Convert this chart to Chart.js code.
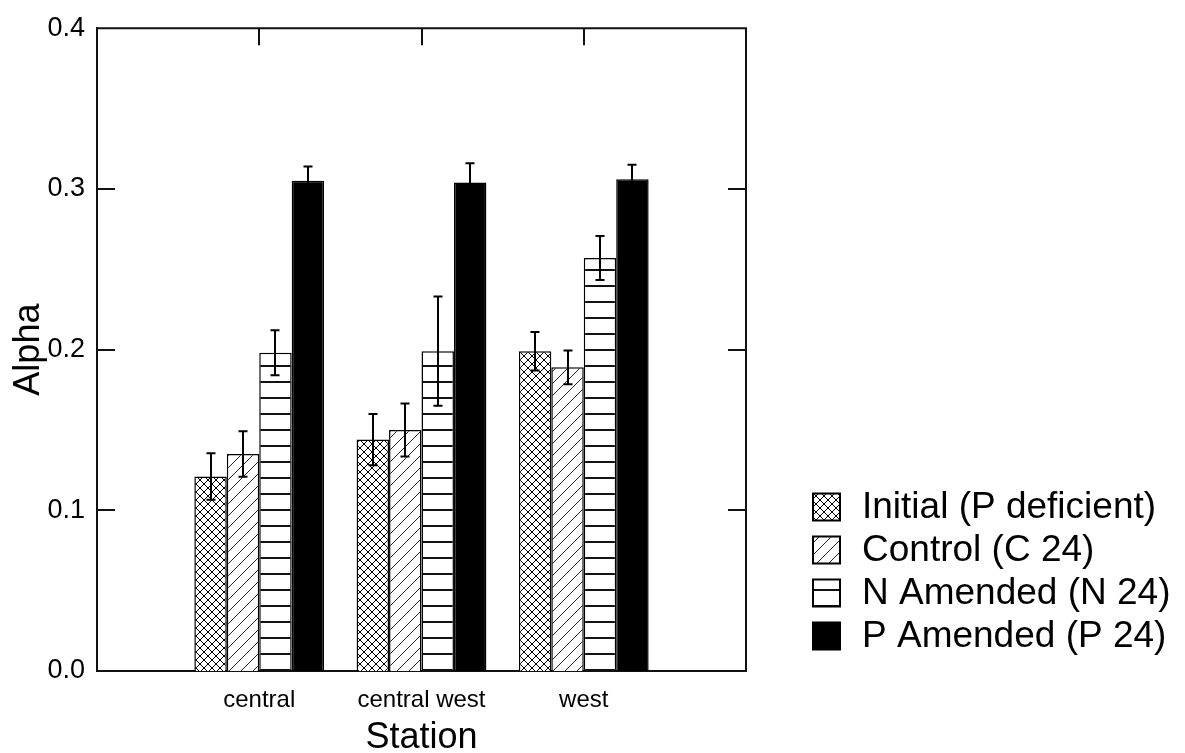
<!DOCTYPE html>
<html>
<head>
<meta charset="utf-8">
<script src="https://cdn.jsdelivr.net/npm/chart.js@4.4.1/dist/chart.umd.min.js"></script>
<style>
  html, body { margin: 0; padding: 0; background: #fff; }
  #wrap { width: 1185px; height: 753px; }
</style>
</head>
<body>
<div id="wrap"><canvas id="c" width="1185" height="753"></canvas></div>
<script>
// ---- data ----
const categories = ['central', 'central west', 'west'];
const seriesNames = ['Initial (P deficient)', 'Control (C 24)', 'N Amended (N 24)', 'P Amended (P 24)'];
const initialVals = [0.121, 0.144, 0.199];
const controlVals = [0.135, 0.150, 0.189];
const nAmendedVals = [0.198, 0.199, 0.257];
const pAmendedVals = [0.305, 0.304, 0.306];
const initialErr = [0.0145, 0.016, 0.012];
const controlErr = [0.0142, 0.0165, 0.0105];
const nAmendedErr = [0.014, 0.034, 0.0137];
const pAmendedErr = [0.009, 0.012, 0.009];
const yTickValues = [0.0, 0.1, 0.2, 0.3, 0.4];

// ---- fill patterns ----
function patternCanvas(w, h, draw) {
  const c = document.createElement('canvas');
  c.width = w; c.height = h;
  const g = c.getContext('2d');
  g.fillStyle = '#fff'; g.fillRect(0, 0, w, h);
  g.fillStyle = '#000';
  draw(g, w, h);
  return g.createPattern(c, 'repeat');
}
const crossPat = patternCanvas(8, 8, (g, w) => {
  for (let i = 0; i < w; i++) { g.fillRect(i, i, 1, 1); g.fillRect(w - 1 - i, i, 1, 1); }
});
const diagPat = patternCanvas(12, 12, (g, w) => {
  g.fillStyle = '#222';
  for (let i = 0; i < w; i++) { g.fillRect(w - 1 - i, i, 1, 1); }
});
const horizPat = patternCanvas(1, 16, (g) => { g.fillStyle = '#111'; g.fillRect(0, 13, 1, 2); });
const fills = [crossPat, diagPat, horizPat, '#000'];

const valueSets = [initialVals, controlVals, nAmendedVals, pAmendedVals];
const errSets = [initialErr, controlErr, nAmendedErr, pAmendedErr];
const padLabels = [''].concat(categories, ['']);

const datasets = seriesNames.map((name, i) => ({
  label: name,
  data: [null].concat(valueSets[i], [null]),
  errors: [null].concat(errSets[i], [null]),
  backgroundColor: fills[i],
  borderColor: '#000',
  borderWidth: 1.5,
  categoryPercentage: 0.8,
  barPercentage: 1.0
}));

const FONT = "'Liberation Sans', Arial, sans-serif";

const frame = {
  id: 'frame',
  afterDatasetsDraw(chart) {
    const ctx = chart.ctx;
    const a = chart.chartArea;
    const xs = chart.scales.x, ys = chart.scales.y;
    ctx.save();
    // error bars
    ctx.strokeStyle = '#000';
    ctx.lineWidth = 2;
    chart.data.datasets.forEach((ds, di) => {
      const meta = chart.getDatasetMeta(di);
      meta.data.forEach((bar, j) => {
        const v = ds.data[j], e = ds.errors[j];
        if (v == null || e == null) return;
        const yt = ys.getPixelForValue(v + e), yb = ys.getPixelForValue(v - e);
        const x = Math.round(bar.x);
        ctx.beginPath();
        ctx.moveTo(x, yt); ctx.lineTo(x, yb);
        ctx.moveTo(x - 4.5, yt); ctx.lineTo(x + 4.5, yt);
        ctx.moveTo(x - 4.5, yb); ctx.lineTo(x + 4.5, yb);
        ctx.stroke();
      });
    });
    // top and right frame
    ctx.strokeStyle = '#111';
    ctx.lineWidth = 2;
    ctx.beginPath();
    ctx.moveTo(a.left, a.top); ctx.lineTo(a.right, a.top); ctx.lineTo(a.right, a.bottom);
    ctx.stroke();
    // inward ticks on left and right
    yTickValues.forEach(v => {
      if (v <= ys.min || v >= ys.max) return;
      const y = Math.round(ys.getPixelForValue(v));
      ctx.beginPath();
      ctx.moveTo(a.left, y); ctx.lineTo(a.left + 18, y);
      ctx.moveTo(a.right, y); ctx.lineTo(a.right - 18, y);
      ctx.stroke();
    });
    // inward ticks on top at categories
    categories.forEach((c, i) => {
      const x = Math.round(xs.getPixelForValue(i + 1));
      ctx.beginPath();
      ctx.moveTo(x, a.top); ctx.lineTo(x, a.top + 17);
      ctx.stroke();
    });
    ctx.restore();
  },
  afterDraw(chart) {
    const ctx = chart.ctx;
    ctx.save();
    const boxX = 813, box = 27, textX = 862;
    const rowY = [507, 550, 593, 636];
    ctx.font = '37px ' + FONT;
    ctx.textBaseline = 'middle';
    chart.data.datasets.forEach((ds, i) => {
      const cy = rowY[i];
      ctx.fillStyle = ds.backgroundColor;
      ctx.fillRect(boxX, cy - box / 2, box, box);
      ctx.strokeStyle = '#000';
      ctx.lineWidth = 2;
      ctx.strokeRect(boxX, cy - box / 2, box, box);
      ctx.fillStyle = '#000';
      ctx.fillText(ds.label, textX, cy + 1);
    });
    ctx.restore();
  }
};

new Chart(document.getElementById('c'), {
  type: 'bar',
  data: { labels: padLabels, datasets },
  options: {
    responsive: false,
    animation: false,
    devicePixelRatio: 1,
    layout: { padding: { left: 0, right: 439, top: 23, bottom: 0 } },
    plugins: { legend: { display: false }, tooltip: { enabled: false } },
    scales: {
      x: {
        type: 'category',
        offset: false,
        grid: { display: false, drawTicks: false },
        border: { display: true, color: '#111', width: 2 },
        ticks: { color: '#000', font: { family: FONT, size: 24 }, padding: 15, maxRotation: 0, autoSkip: false },
        title: { display: true, text: 'Station', color: '#000', font: { family: FONT, size: 36, lineHeight: 1 }, padding: { top: 0, bottom: -3 } },
        afterFit: s => { s.height = 82; }
      },
      y: {
        min: 0, max: 0.4,
        grid: { display: false, drawTicks: false },
        border: { display: true, color: '#111', width: 2 },
        afterBuildTicks: s => { s.ticks = yTickValues.map(v => ({ value: v })); },
        ticks: { color: '#000', font: { family: FONT, size: 27 }, padding: 12, callback: v => Number(v).toFixed(1) },
        title: { display: true, text: 'Alpha', color: '#000', font: { family: FONT, size: 36, lineHeight: 1 }, padding: { top: 11, bottom: 0 } },
        afterFit: s => { s.width = 97; }
      }
    }
  },
  plugins: [frame]
});
</script>
</body>
</html>
